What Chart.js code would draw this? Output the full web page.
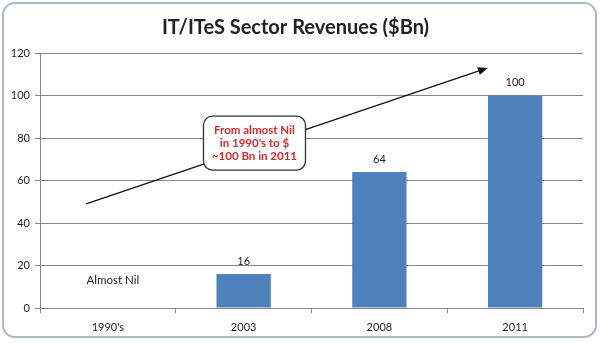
<!DOCTYPE html>
<html>
<head>
<meta charset="utf-8">
<script src="https://cdn.jsdelivr.net/npm/chart.js@4/dist/chart.umd.min.js"></script>
<style>
  html, body { margin: 0; padding: 0; background: #fff; }
  #wrap { position: relative; width: 600px; height: 343px; }
</style>
</head>
<body>
<div id="wrap"><canvas id="revChart" width="600" height="343"></canvas></div>
<script>
// chart values
const categories = ["1990's", '2003', '2008', '2011'];
const revenues = [0, 16, 64, 100];
const valueLabels = ['Almost Nil', '16', '64', '100'];
const yMin = 0, yMax = 120, yStep = 20;
const chartTitle = 'IT/ITeS Sector Revenues ($Bn)';
const calloutLines = ['From almost Nil', "in 1990's to $", '~100 Bn in 2011'];

// annotation placement (category index / value units)
const annot = {
    arrowFrom: { x: -0.16, y: 49 },
    arrowTo: { x: 2.8, y: 113 },
    callout: { x: 1.08, y: 77.6, w: 102, h: 54 },
    nilLabelY: 13,
    nilLabelDx: 5
};

const FONT = 'Lato, "Open Sans", sans-serif';

const framePlugin = {
    id: 'frame',
    beforeDraw(chart) {
        const ctx = chart.ctx;
        ctx.save();
        ctx.fillStyle = '#fff';
        ctx.fillRect(0, 0, chart.width, chart.height);
        ctx.strokeStyle = '#a9b8cc';
        ctx.lineWidth = 2;
        ctx.beginPath();
        ctx.roundRect(3, 3, 593, 334, 12);
        ctx.stroke();
        ctx.restore();
    }
};

const annotationPlugin = {
    id: 'notes',
    afterDatasetsDraw(chart) {
        const ctx = chart.ctx;
        const x = chart.scales.x, y = chart.scales.y;
        const meta = chart.getDatasetMeta(0);

        // value labels
        ctx.save();
        ctx.fillStyle = '#222';
        ctx.textAlign = 'center';
        ctx.textBaseline = 'middle';
        meta.data.forEach((bar, i) => {
            if (revenues[i] === 0) {
                ctx.font = '11.5px ' + FONT;
                ctx.fillText(valueLabels[i], bar.x + annot.nilLabelDx, y.getPixelForValue(annot.nilLabelY));
            } else {
                ctx.font = '11px ' + FONT;
                ctx.fillText(valueLabels[i], bar.x, bar.y - 13);
            }
        });

        // arrow
        const x1 = x.getPixelForValue(annot.arrowFrom.x), y1 = y.getPixelForValue(annot.arrowFrom.y);
        const x2 = x.getPixelForValue(annot.arrowTo.x), y2 = y.getPixelForValue(annot.arrowTo.y);
        const ang = Math.atan2(y2 - y1, x2 - x1);
        ctx.strokeStyle = '#111';
        ctx.fillStyle = '#111';
        ctx.lineWidth = 1.2;
        ctx.beginPath();
        ctx.moveTo(x1, y1);
        ctx.lineTo(x2 - 8 * Math.cos(ang), y2 - 8 * Math.sin(ang));
        ctx.stroke();
        ctx.beginPath();
        ctx.moveTo(x2, y2);
        ctx.lineTo(x2 - 10 * Math.cos(ang) + 4 * Math.sin(ang), y2 - 10 * Math.sin(ang) - 4 * Math.cos(ang));
        ctx.lineTo(x2 - 10 * Math.cos(ang) - 4 * Math.sin(ang), y2 - 10 * Math.sin(ang) + 4 * Math.cos(ang));
        ctx.closePath();
        ctx.fill();

        // callout box
        const cx = x.getPixelForValue(annot.callout.x), cy = y.getPixelForValue(annot.callout.y);
        const w = annot.callout.w, h = annot.callout.h;
        ctx.beginPath();
        ctx.roundRect(cx - w / 2, cy - h / 2, w, h, 9);
        ctx.fillStyle = '#fff';
        ctx.fill();
        ctx.strokeStyle = '#333';
        ctx.lineWidth = 1.3;
        ctx.stroke();
        ctx.fillStyle = '#d42a2a';
        ctx.font = 'bold 11.5px ' + FONT;
        calloutLines.forEach((line, i) => {
            ctx.fillText(line, cx, cy + (i - 1) * 13);
        });
        ctx.restore();
    }
};

new Chart(document.getElementById('revChart'), {
    type: 'bar',
    data: {
        labels: categories,
        datasets: [{
            data: revenues,
            backgroundColor: '#4f81bd',
            barPercentage: 0.4,
            categoryPercentage: 1
        }]
    },
    options: {
        responsive: false,
        animation: false,
        layout: { padding: { left: 8, right: 17, top: 0, bottom: 10 } },
        plugins: {
            legend: { display: false },
            tooltip: { enabled: false },
            title: {
                display: true,
                text: chartTitle,
                color: '#222',
                font: { family: FONT, size: 20, weight: 'bold', lineHeight: 1.2 },
                padding: { top: 16, bottom: 13 }
            }
        },
        scales: {
            x: {
                grid: { drawOnChartArea: false, drawTicks: true, tickLength: 5, color: '#888' },
                border: { color: '#888' },
                ticks: { color: '#222', font: { family: FONT, size: 11 }, padding: 8 },
                afterFit(scale) { scale.height = 25; }
            },
            y: {
                min: yMin,
                max: yMax,
                grid: { color: '#888', tickLength: 5 },
                border: { color: '#888' },
                ticks: { stepSize: yStep, color: '#222', font: { family: FONT, size: 11 }, padding: 5 },
                afterFit(scale) { scale.width = 32; }
            }
        }
    },
    plugins: [framePlugin, annotationPlugin]
});
</script>
</body>
</html>
